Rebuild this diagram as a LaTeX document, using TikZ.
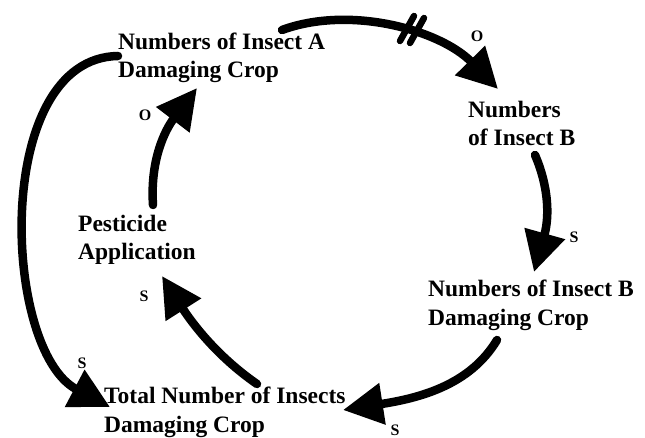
\documentclass[tikz,border=0pt]{standalone}
\usepackage{fontspec}
\setmainfont{Liberation Serif}
\usetikzlibrary{arrows.meta}
\begin{document}
\begin{tikzpicture}[x=1pt,y=-1pt,
  lbl/.style={font=\bfseries\fontsize{23.5}{28.5}\selectfont, align=left, anchor=base west, inner sep=0pt},
  pol/.style={font=\bfseries\fontsize{16}{18}\selectfont, inner sep=0pt},
  link/.style={line width=8.5pt, line cap=round, -{Triangle[length=40pt,width=40pt]}},
  hash/.style={line width=6.5pt, line cap=round}]
\useasboundingbox (0,0) rectangle (645,438);
% variables (anchor at baseline of the last line)
\node[lbl] (A)  at (118,78)  {Numbers of Insect A\\Damaging Crop};
\node[lbl] (B)  at (468,146) {Numbers\\of Insect B};
\node[lbl] (BD) at (428,325) {Numbers of Insect B\\Damaging Crop};
\node[lbl] (T)  at (104,432) {Total Number of Insects\\Damaging Crop};
\node[lbl] (P)  at (78,260)  {Pesticide\\Application};
% connector end points
\coordinate (a1) at (282,30);   \coordinate (b1) at (498,89);
\coordinate (a2) at (535,155);  \coordinate (b2) at (534,272);
\coordinate (a3) at (497,340);  \coordinate (b3) at (343,410);
\coordinate (a4) at (257,384);  \coordinate (b4) at (162,276);
\coordinate (a5) at (153,205);  \coordinate (b5) at (197,88);
\coordinate (a6) at (118,56);   \coordinate (b6) at (110,407);
% links
\draw[link] (a1) .. controls (350,5) and (440,30) .. (b1);
\draw[link] (a2) .. controls (548,185) and (550,215) .. (b2);
\draw[link] (a3) .. controls (470,385) and (420,398) .. (b3);
\draw[link] (a4) .. controls (215,355) and (190,320) .. (b4);
\draw[link] (a5) .. controls (150,160) and (165,130) .. (b5);
\draw[link] (a6) .. controls (-8,58) and (2,350) .. (b6);
% delay marks
\coordinate (h1a) at (400,41); \coordinate (h1b) at (414,16);
\coordinate (h2a) at (410,43); \coordinate (h2b) at (424,18);
\draw[hash] (h1a) -- (h1b);
\draw[hash] (h2a) -- (h2b);
% polarities
\node[pol] (p1) at (477,36)  {O};
\node[pol] (p5) at (145,115) {O};
\node[pol] (p2) at (574,237) {S};
\node[pol] (p4) at (144,296) {S};
\node[pol] (p6) at (82,363)  {S};
\node[pol] (p3) at (395,430) {S};
\end{tikzpicture}
\end{document}
